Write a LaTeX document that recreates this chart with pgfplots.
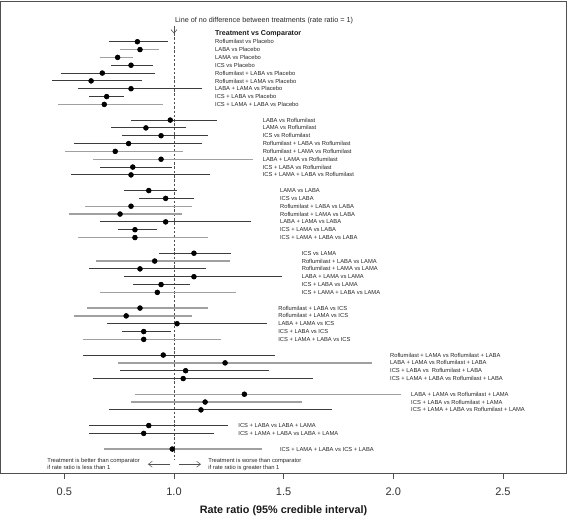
\documentclass[border=0pt]{standalone}
\usepackage{fontspec}
\setmainfont{Liberation Sans}
\usepackage{pgfplots}
\pgfplotsset{compat=1.18}
\usepackage{pgfplotstable}
\usetikzlibrary{arrows.meta}
\definecolor{darkline}{HTML}{3C3C3C}
\definecolor{lightline}{HTML}{A0A0A0}
\definecolor{framecol}{HTML}{505050}

\pgfplotstableread{
row est lo hi
0 0.833 0.704 0.974
3 0.804 0.713 0.903
4 0.673 0.485 0.913
5 0.622 0.442 0.853
6 0.804 0.564 1.126
7 0.693 0.614 0.773
10 0.983 0.804 1.195
11 0.872 0.713 1.053
12 0.941 0.762 1.154
13 0.793 0.543 1.126
16 0.812 0.663 0.992
17 0.804 0.530 1.164
19 0.885 0.772 1.012
20 0.962 0.842 1.093
23 0.962 0.663 1.351
24 0.822 0.743 0.924
27 1.091 0.933 1.262
29 0.845 0.614 1.145
30 1.091 0.772 1.492
31 0.941 0.812 1.075
36 1.014 0.693 1.423
37 0.862 0.763 0.985
40 0.951 0.584 1.462
42 1.053 0.754 1.433
43 1.042 0.632 1.632
47 1.123 0.704 1.722
49 0.885 0.614 1.245
50 0.862 0.614 1.184
}\darktab

\pgfplotstableread{
row est lo hi
1 0.845 0.754 0.933
2 0.743 0.663 0.812
8 0.682 0.472 0.951
14 0.732 0.503 1.042
15 0.941 0.632 1.362
21 0.804 0.594 1.083
22 0.754 0.523 1.035
25 0.822 0.564 1.154
28 0.912 0.643 1.255
32 0.924 0.663 1.283
34 0.845 0.605 1.154
35 0.782 0.544 1.083
38 0.862 0.584 1.213
41 1.233 0.745 1.902
45 1.321 0.822 2.034
46 1.142 0.804 1.582
52 0.992 0.682 1.403
}\lighttab

\tikzset{
  lbl/.style={anchor=base west, inner sep=0pt, font=\fontsize{5.8}{7}\selectfont, text=black!85, yshift=-2.1pt},
}

\begin{document}
\begin{tikzpicture}
\begin{axis}[
  at={(0.5pt,44pt)}, anchor=south west,
  scale only axis, width=566pt, height=472pt,
  xmin=0.2088, xmax=2.790, ymin=-5.2, ymax=55.06, y dir=reverse,
  clip=false,
  axis line style={framecol, line width=0.8pt},
  xtick={0.5,1,1.5,2,2.5}, ytick=\empty,
  xtick pos=left,
  tick align=outside, major tick length=5.5pt,
  tick style={framecol, line width=0.8pt},
  xticklabel style={font=\fontsize{11}{13}\selectfont, text=black!80, yshift=-5.5pt,
    /pgf/number format/.cd, fixed, fixed zerofill, precision=1, assume math mode=true},
  xlabel={Rate ratio (95\% credible interval)},
  xlabel style={font=\fontsize{10.8}{13}\selectfont\bfseries, text=black!90, at={(axis description cs:0.5,0)}, anchor=center, yshift=-37.7pt},
]
% line of no difference
\addplot[framecol, dashed, line width=0.6pt, dash pattern=on 2.5pt off 1.8pt] coordinates {(1,-1.1) (1,53.4)};

% interval lines
\addplot[only marks, mark=none, error bars/.cd, x dir=both, x explicit, error mark=none,
  error bar style={draw=darkline, line width=0.9pt, solid}]
  table[x=est, y=row, x error plus expr=\thisrow{hi}-\thisrow{est}, x error minus expr=\thisrow{est}-\thisrow{lo}] {\darktab};
\addplot[only marks, mark=none, error bars/.cd, x dir=both, x explicit, error mark=none,
  error bar style={draw=lightline, line width=1.4pt, solid}]
  table[x=est, y=row, x error plus expr=\thisrow{hi}-\thisrow{est}, x error minus expr=\thisrow{est}-\thisrow{lo}] {\lighttab};

% point estimates
\addplot[only marks, mark=*, mark size=2.5pt, black] table[x=est, y=row] {\darktab};
\addplot[only marks, mark=*, mark size=2.5pt, black] table[x=est, y=row] {\lighttab};

% top annotation
\node[anchor=west, inner sep=0pt, font=\fontsize{7.2}{8.5}\selectfont, text=black!85] at (axis cs:1.0046,-2.68) {Line of no difference between treatments (rate ratio = 1)};
\draw[framecol, line width=0.6pt, -{Straight Barb[length=3.5pt,width=6pt]}] (axis cs:1,-1.95) -- (axis cs:1,-1.05);
\node[anchor=west, inner sep=0pt, font=\fontsize{7.1}{8.5}\selectfont\bfseries, text=black!90] at (axis cs:1.187,-0.98) {Treatment vs Comparator};

% labels group 1
\node[lbl] at (axis cs:1.187,0) {Roflumilast vs Placebo};
\node[lbl] at (axis cs:1.187,1) {LABA vs Placebo};
\node[lbl] at (axis cs:1.187,2) {LAMA vs Placebo};
\node[lbl] at (axis cs:1.187,3) {ICS vs Placebo};
\node[lbl] at (axis cs:1.187,4) {Roflumilast + LABA vs Placebo};
\node[lbl] at (axis cs:1.187,5) {Roflumilast + LAMA vs Placebo};
\node[lbl] at (axis cs:1.187,6) {LABA + LAMA vs Placebo};
\node[lbl] at (axis cs:1.187,7) {ICS + LABA vs Placebo};
\node[lbl] at (axis cs:1.187,8) {ICS + LAMA + LABA vs Placebo};
% group 2
\node[lbl] at (axis cs:1.404,10) {LABA vs Roflumilast};
\node[lbl] at (axis cs:1.404,11) {LAMA vs Roflumilast};
\node[lbl] at (axis cs:1.404,12) {ICS vs Roflumilast};
\node[lbl] at (axis cs:1.404,13) {Roflumilast + LABA vs Roflumilast};
\node[lbl] at (axis cs:1.404,14) {Roflumilast + LAMA vs Roflumilast};
\node[lbl] at (axis cs:1.404,15) {LABA + LAMA vs Roflumilast};
\node[lbl] at (axis cs:1.404,16) {ICS + LABA vs Roflumilast};
\node[lbl] at (axis cs:1.404,17) {ICS + LAMA + LABA vs Roflumilast};
% group 3
\node[lbl] at (axis cs:1.483,19) {LAMA vs LABA};
\node[lbl] at (axis cs:1.483,20) {ICS vs LABA};
\node[lbl] at (axis cs:1.483,21) {Roflumilast + LABA vs LABA};
\node[lbl] at (axis cs:1.483,22) {Roflumilast + LAMA vs LABA};
\node[lbl] at (axis cs:1.483,23) {LABA + LAMA vs LABA};
\node[lbl] at (axis cs:1.483,24) {ICS + LAMA vs LABA};
\node[lbl] at (axis cs:1.483,25) {ICS + LAMA + LABA vs LABA};
% group 4
\node[lbl] at (axis cs:1.582,27) {ICS vs LAMA};
\node[lbl] at (axis cs:1.582,28) {Roflumilast + LABA vs LAMA};
\node[lbl] at (axis cs:1.582,29) {Roflumilast + LAMA vs LAMA};
\node[lbl] at (axis cs:1.582,30) {LABA + LAMA vs LAMA};
\node[lbl] at (axis cs:1.582,31) {ICS + LABA vs LAMA};
\node[lbl] at (axis cs:1.582,32) {ICS + LAMA + LABA vs LAMA};
% group 5
\node[lbl] at (axis cs:1.475,34) {Roflumilast + LABA vs ICS};
\node[lbl] at (axis cs:1.475,35) {Roflumilast + LAMA vs ICS};
\node[lbl] at (axis cs:1.475,36) {LABA + LAMA vs ICS};
\node[lbl] at (axis cs:1.475,37) {ICS + LABA vs ICS};
\node[lbl] at (axis cs:1.475,38) {ICS + LAMA + LABA vs ICS};
% group 6
\node[lbl] at (axis cs:1.985,40) {Roflumilast + LAMA vs Roflumilast + LABA};
\node[lbl] at (axis cs:1.985,41) {LABA + LAMA vs Roflumilast + LABA};
\node[lbl] at (axis cs:1.985,42) {ICS + LABA vs~ Roflumilast + LABA};
\node[lbl] at (axis cs:1.985,43) {ICS + LAMA + LABA vs Roflumilast + LABA};
% group 7
\node[lbl] at (axis cs:2.081,45) {LABA + LAMA vs Roflumilast + LAMA};
\node[lbl] at (axis cs:2.081,46) {ICS + LABA vs Roflumilast + LAMA};
\node[lbl] at (axis cs:2.081,47) {ICS + LAMA + LABA vs Roflumilast + LAMA};
% group 8
\node[lbl] at (axis cs:1.293,49) {ICS + LABA vs LABA + LAMA};
\node[lbl] at (axis cs:1.293,50) {ICS + LAMA + LABA vs LABA + LAMA};
% group 9
\node[lbl] at (axis cs:1.483,52) {ICS + LAMA + LABA vs ICS + LABA};

% bottom annotations
\node[lbl] at (axis cs:0.422,53.44) {Treatment is better than comparator};
\node[lbl] at (axis cs:0.422,54.39) {if rate ratio is less than 1};
\node[lbl] at (axis cs:1.156,53.44) {Treatment is worse than comparator};
\node[lbl] at (axis cs:1.156,54.39) {if rate ratio is greater than 1};
\draw[framecol, line width=0.5pt, -{Straight Barb[length=4pt,width=6pt]}] (axis cs:0.982,53.94) -- (axis cs:0.881,53.94);
\draw[framecol, line width=0.5pt, -{Straight Barb[length=4pt,width=6pt]}] (axis cs:1.023,53.94) -- (axis cs:1.123,53.94);
\end{axis}
\pgfresetboundingbox
\useasboundingbox (0,0) rectangle (568pt,517pt);
\end{tikzpicture}
\end{document}
